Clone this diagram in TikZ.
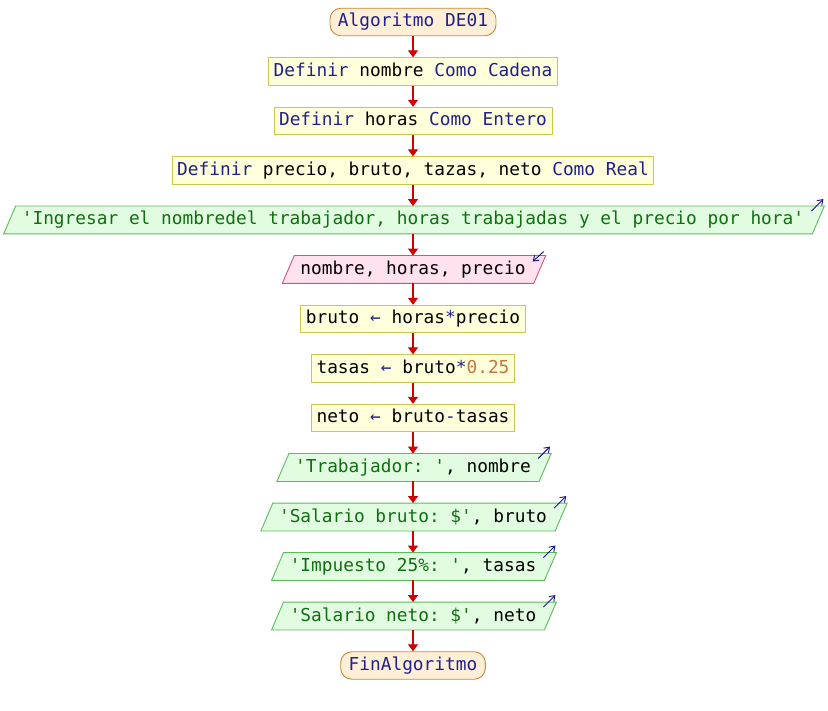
\documentclass[tikz,border=0pt]{standalone}
\usepackage{fontspec}
\setmonofont{DejaVu Sans Mono}
\usetikzlibrary{arrows.meta,calc,backgrounds}

\definecolor{kwcol}{HTML}{20208C}
\definecolor{strcol}{HTML}{106E10}
\definecolor{numcol}{HTML}{C07838}
\definecolor{flowcol}{HTML}{D00000}
\definecolor{termfill}{HTML}{FFEFD6}
\definecolor{termdraw}{HTML}{C8893A}
\definecolor{procfill}{HTML}{FFFFDC}
\definecolor{procdraw}{HTML}{C8C84C}
\definecolor{outfill}{HTML}{E2FCE2}
\definecolor{outdraw}{HTML}{5CBB5C}
\definecolor{infill}{HTML}{FFE2EE}
\definecolor{indraw}{HTML}{C8558A}
\definecolor{markcol}{HTML}{14148C}

\newcommand{\kwd}[1]{\textcolor{kwcol}{#1}}
\newcommand{\strg}[1]{\textcolor{strcol}{#1}}
\newcommand{\numb}[1]{\textcolor{numcol}{#1}}

% parallelogram drawn behind a text node: #1 node name, #2 fill, #3 border
\newcommand{\ioshape}[3]{%
  \begin{pgfonlayer}{background}
    \draw[fill=#2,draw=#3,line width=0.9pt]
      ($(#1.north west)+(-6,0)$) -- ($(#1.north east)+(20,0)$) --
      ($(#1.south east)+(8,0)$) -- ($(#1.south west)+(-18,0)$) -- cycle;
  \end{pgfonlayer}}

\tikzset{
  base/.style={font=\ttfamily\fontsize{17.8}{20}\selectfont, text height=13pt,
    text depth=3pt, minimum height=27.5pt, inner ysep=0pt},
  term/.style={base, draw=termdraw, fill=termfill, line width=0.9pt,
    rounded corners=11pt, inner xsep=8pt},
  proc/.style={base, draw=procdraw, fill=procfill, line width=0.9pt,
    inner xsep=5pt},
  iotext/.style={base, inner xsep=0pt},
  flow/.style={draw=flowcol, line width=1.3pt,
    -{Triangle[length=7pt,width=10pt]}},
  iomark/.style={draw=markcol, line width=0.9pt, -{Straight Barb[length=5pt,width=7pt]}}
}

\begin{document}
\begin{tikzpicture}[x=1pt,y=-1pt]
  \useasboundingbox (0,0) rectangle (828,711);

  \node[term]   (start) at (413,22)  {\kwd{Algoritmo DE01}};
  \node[proc]   (d1)    at (413,71.5)  {\kwd{Definir} nombre \kwd{Como Cadena}};
  \node[proc]   (d2)    at (413,121) {\kwd{Definir} horas \kwd{Como Entero}};
  \node[proc]   (d3)    at (413,170.5) {\kwd{Definir} precio, bruto, tazas, neto \kwd{Como Real}};
  \node[iotext] (w1)    at (413,220) {\strg{'Ingresar el nombredel trabajador, horas trabajadas y el precio por hora'}};
  \node[iotext] (r1)    at (413,269.5) {nombre, horas, precio};
  \node[proc]   (a1)    at (413,319) {bruto \kwd{←} horas\kwd{*}precio};
  \node[proc]   (a2)    at (413,368.5) {tasas \kwd{←} bruto\kwd{*}\numb{0.25}};
  \node[proc]   (a3)    at (413,418) {neto \kwd{←} bruto\kwd{-}tasas};
  \node[iotext] (w2)    at (413,467.5) {\strg{'Trabajador: '}, nombre};
  \node[iotext] (w3)    at (413,517) {\strg{'Salario bruto: \$'}, bruto};
  \node[iotext] (w4)    at (413,566.5) {\strg{'Impuesto 25\%: '}, tasas};
  \node[iotext] (w5)    at (413,616) {\strg{'Salario neto: \$'}, neto};
  \node[term]   (stop)  at (413,665.5) {\kwd{FinAlgoritmo}};

  % input / output parallelograms
  \ioshape{w1}{outfill}{outdraw}
  \ioshape{r1}{infill}{indraw}
  \ioshape{w2}{outfill}{outdraw}
  \ioshape{w3}{outfill}{outdraw}
  \ioshape{w4}{outfill}{outdraw}
  \ioshape{w5}{outfill}{outdraw}

  % direction marks: outward for output, inward for input
  \foreach \n in {w1,w2,w3,w4,w5}{
    \draw[iomark] ($(\n.north east)+(7,5)$) -- ($(\n.north east)+(19,-7)$);
  }
  \draw[iomark] ($(r1.north east)+(18,-4)$) -- ($(r1.north east)+(7,6)$);

  % control flow
  \draw[flow] (start) -- (d1);
  \draw[flow] (d1) -- (d2);
  \draw[flow] (d2) -- (d3);
  \draw[flow] (d3) -- (w1);
  \draw[flow] (w1) -- (r1);
  \draw[flow] (r1) -- (a1);
  \draw[flow] (a1) -- (a2);
  \draw[flow] (a2) -- (a3);
  \draw[flow] (a3) -- (w2);
  \draw[flow] (w2) -- (w3);
  \draw[flow] (w3) -- (w4);
  \draw[flow] (w4) -- (w5);
  \draw[flow] (w5) -- (stop);
\end{tikzpicture}
\end{document}
